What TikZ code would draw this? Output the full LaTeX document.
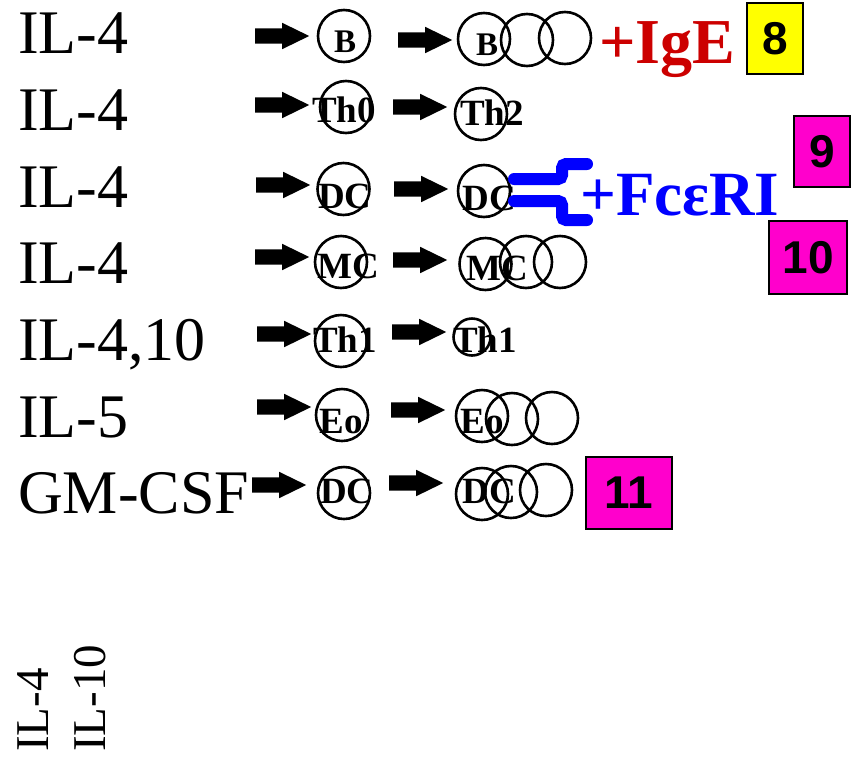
\documentclass[tikz,border=0pt]{standalone}
\usepackage{fontspec}
\setmainfont{Liberation Serif}
\newfontfamily\numfont{Liberation Sans}
\usetikzlibrary{shapes.arrows}

\definecolor{igered}{RGB}{204,0,0}
\definecolor{fcblue}{RGB}{0,0,255}
\definecolor{tagpink}{RGB}{255,0,204}
\definecolor{tagyellow}{RGB}{255,255,0}

\begin{document}
\begin{tikzpicture}[x=1pt,y=-1pt,
    cell/.style={circle,draw,line width=2.6pt,minimum size=52pt,inner sep=0pt},
    celltext/.style={anchor=base,inner sep=0pt,font=\bfseries\fontsize{37}{37}\selectfont},
    fatarrow/.style={single arrow,fill=black,anchor=tail,inner xsep=0pt,inner ysep=7.5pt,
      minimum height=54pt,single arrow head extend=5.5pt,single arrow tip angle=52},
    cyto/.style={anchor=base west,inner sep=0pt,font=\fontsize{62}{62}\selectfont},
    tag/.style={draw,line width=2.4pt,inner sep=0pt,
      font=\numfont\bfseries\fontsize{46}{46}\selectfont}]
  \useasboundingbox (0,0) rectangle (861,758);

  % Cytokines on the left
  \node[cyto] (c1) at (18,53) {IL-4};
  \node[cyto] (c2) at (18,130) {IL-4};
  \node[cyto] (c3) at (18,207) {IL-4};
  \node[cyto] (c4) at (18,283) {IL-4};
  \node[cyto] (c5) at (18,360) {IL-4,10};
  \node[cyto] (c6) at (18,437) {IL-5};
  \node[cyto] (c7) at (18,513) {GM-CSF};

  % Fat arrows, two per row
  \node[fatarrow] (a11) at (255,36) {};
  \node[fatarrow] (a12) at (398,40) {};
  \node[fatarrow] (a21) at (255,105) {};
  \node[fatarrow] (a22) at (393,107) {};
  \node[fatarrow] (a31) at (256,185) {};
  \node[fatarrow] (a32) at (394,189) {};
  \node[fatarrow] (a41) at (255,257) {};
  \node[fatarrow] (a42) at (393,260) {};
  \node[fatarrow] (a51) at (257,334) {};
  \node[fatarrow] (a52) at (392,332) {};
  \node[fatarrow] (a61) at (257,407) {};
  \node[fatarrow] (a62) at (391,410) {};
  \node[fatarrow] (a71) at (252,485) {};
  \node[fatarrow] (a72) at (389,483) {};

  % B cell -> B cell with two more
  \node[cell] (b1) at (344,36) {};
  \node[cell] (b2) at (484,39) {};
  \node[cell] (b2x) at (527,40) {};
  \node[cell] (b2y) at (565,38) {};
  \node[celltext,font=\bfseries\fontsize{33}{33}\selectfont] (lb1) at (345,52) {B};
  \node[celltext,font=\bfseries\fontsize{33}{33}\selectfont] (lb2) at (487,55) {B};
  \node[anchor=base west,inner sep=0pt,text=igered,
        font=\bfseries\fontsize{64}{64}\selectfont] (ige) at (599,63) {+IgE};

  % Th0 -> Th2
  \node[cell] (th0) at (346,107) {};
  \node[cell] (th2) at (481,114) {};
  \node[celltext] (lth0) at (344,122) {Th0};
  \node[celltext] (lth2) at (492,125) {Th2};

  % DC -> DC with the receptor
  \node[cell] (dc1) at (343.5,189) {};
  \node[cell] (dc2) at (484,191) {};
  \node[celltext] (ldc1) at (345,208) {DC};
  \node[celltext] (ldc2) at (489,210) {DC};
  \draw[fcblue,line width=12pt,line cap=round,rounded corners=4pt]
    (514,179) -- (562,179) -- (562,164) -- (587,164);
  \draw[fcblue,line width=12pt,line cap=round,rounded corners=4pt]
    (514,201) -- (562,201) -- (562,220) -- (587,220);
  \node[anchor=base west,inner sep=0pt,text=fcblue,
        font=\bfseries\fontsize{63}{63}\selectfont] (fce) at (580,215) {+FcεRI};

  % MC -> MC with two more
  \node[cell] (mc1) at (341,262) {};
  \node[cell] (mc2) at (485.5,264) {};
  \node[cell] (mc2x) at (526,262) {};
  \node[cell] (mc2y) at (560,262) {};
  \node[celltext] (lmc1) at (348,278) {MC};
  \node[celltext] (lmc2) at (497,280) {MC};

  % Th1 -> Th1 (smaller)
  \node[cell] (th1a) at (341,341) {};
  \node[cell,minimum size=37pt] (th1b) at (472,337) {};
  \node[celltext] (lth1a) at (345,352) {Th1};
  \node[celltext] (lth1b) at (485,352) {Th1};

  % Eo -> Eo with two more
  \node[cell] (eo1) at (342,415) {};
  \node[cell] (eo2) at (482,416) {};
  \node[cell] (eo2x) at (512,419) {};
  \node[cell] (eo2y) at (552,418) {};
  \node[celltext] (leo1) at (341,433) {Eo};
  \node[celltext] (leo2) at (482,433) {Eo};

  % DC -> DC with two more
  \node[cell] (dc3) at (344,493) {};
  \node[cell] (dc4) at (482,494) {};
  \node[cell] (dc4x) at (511,492) {};
  \node[cell] (dc4y) at (546,490) {};
  \node[celltext] (ldc3) at (347,503) {DC};
  \node[celltext] (ldc4) at (489,503) {DC};

  % Numbered tags
  \node[tag,fill=tagyellow,minimum width=56pt,minimum height=71pt] (t8) at (775,38.5) {8};
  \node[tag,fill=tagpink,minimum width=56pt,minimum height=71pt] (t9) at (822,151.5) {9};
  \node[tag,fill=tagpink,minimum width=78pt,minimum height=73pt] (t10) at (808,257.5) {10};
  \node[tag,fill=tagpink,minimum width=86pt,minimum height=72pt] (t11) at (629,493) {11};

  % Rotated labels at the bottom
  \node[rotate=90,anchor=base west,inner sep=0pt,font=\fontsize{47}{47}\selectfont]
    (bl1) at (48,752) {IL-4};
  \node[rotate=90,anchor=base west,inner sep=0pt,font=\fontsize{47}{47}\selectfont]
    (bl2) at (105,752) {IL-10};
\end{tikzpicture}
\end{document}
